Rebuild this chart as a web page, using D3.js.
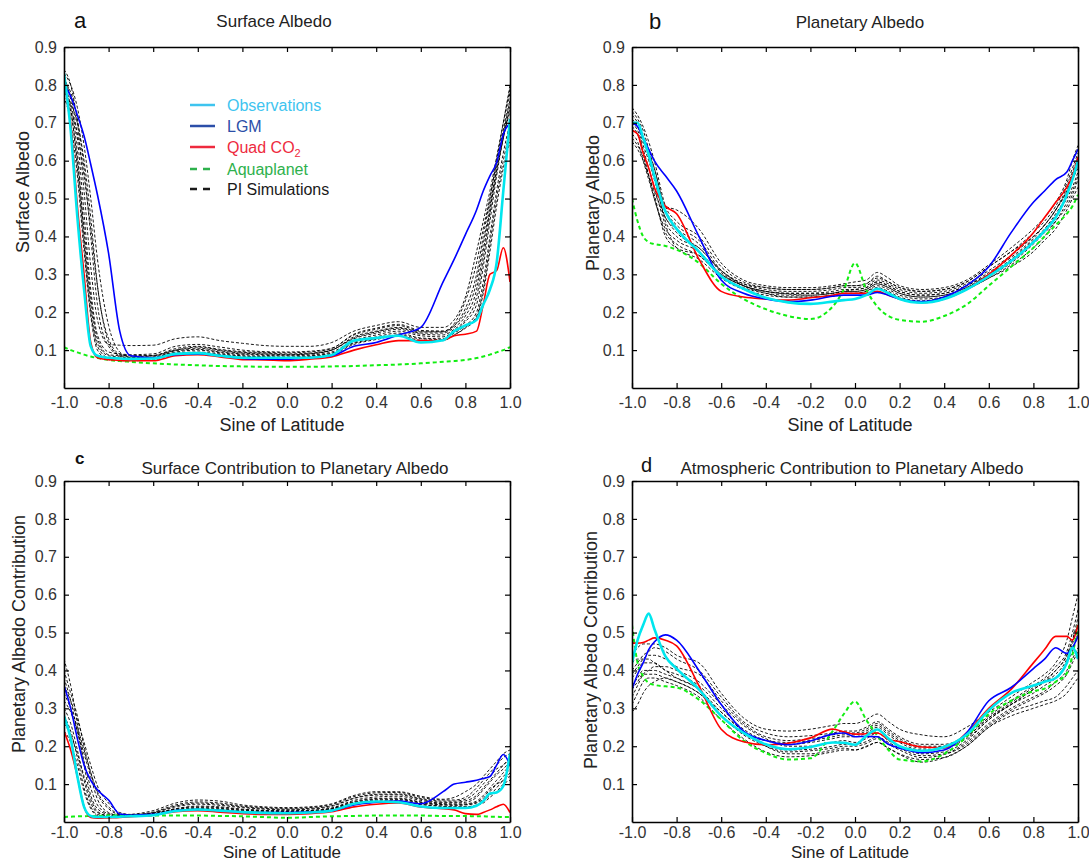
<!DOCTYPE html>
<html>
<head>
<meta charset="utf-8">
<script src="https://cdn.jsdelivr.net/npm/d3@7"></script>
<style>
body { margin:0; background:#fff; }
svg { font-family:"Liberation Sans", Arial, sans-serif; }
</style>
</head>
<body>
<svg id="chart"></svg>
<script>
// sine of latitude grids (a and c share one, b and d the other)
var sinLatAC = [-1,-0.97,-0.94,-0.91,-0.88,-0.85,-0.8,-0.75,-0.7,-0.6,-0.5,-0.4,-0.3,-0.2,-0.1,0,0.1,0.2,0.3,0.4,0.5,0.6,0.7,0.75,0.8,0.85,0.88,0.91,0.94,0.97,1];
var sinLatBD = [-1,-0.975,-0.95,-0.925,-0.9,-0.85,-0.8,-0.7,-0.6,-0.5,-0.4,-0.3,-0.2,-0.1,-0.05,0,0.05,0.1,0.15,0.2,0.3,0.4,0.5,0.6,0.7,0.8,0.85,0.9,0.95,0.975,1];

var xTicks = [-1,-0.8,-0.6,-0.4,-0.2,0,0.2,0.4,0.6,0.8,1];
var yTicks = [0.1,0.2,0.3,0.4,0.5,0.6,0.7,0.8,0.9];

// a: surface albedo
var obsA  = [0.83,0.68,0.45,0.26,0.11,0.085,0.08,0.078,0.077,0.078,0.09,0.092,0.085,0.08,0.08,0.08,0.08,0.087,0.125,0.132,0.138,0.12,0.126,0.15,0.165,0.18,0.22,0.26,0.33,0.52,0.71];
var lgmA  = [0.80,0.77,0.72,0.665,0.59,0.51,0.355,0.15,0.085,0.08,0.088,0.09,0.085,0.078,0.076,0.076,0.08,0.085,0.11,0.12,0.14,0.16,0.28,0.34,0.405,0.47,0.52,0.56,0.595,0.67,0.70];
var quadA = [0.81,0.70,0.48,0.30,0.12,0.08,0.075,0.073,0.072,0.072,0.085,0.088,0.082,0.075,0.074,0.072,0.076,0.082,0.10,0.114,0.125,0.125,0.126,0.138,0.142,0.15,0.22,0.30,0.31,0.37,0.28];
var aquaA = [0.108,0.1,0.094,0.088,0.083,0.079,0.074,0.071,0.069,0.065,0.062,0.06,0.058,0.057,0.056,0.056,0.056,0.057,0.058,0.06,0.062,0.065,0.069,0.071,0.074,0.079,0.083,0.088,0.094,0.1,0.108];
var piA = [
    [0.84,0.80,0.70,0.52,0.32,0.18,0.115,0.113,0.112,0.113,0.13,0.135,0.125,0.118,0.112,0.11,0.11,0.12,0.15,0.165,0.175,0.16,0.16,0.18,0.24,0.36,0.44,0.52,0.61,0.70,0.80],
    [0.80,0.77,0.66,0.46,0.26,0.14,0.095,0.09,0.088,0.09,0.11,0.115,0.108,0.1,0.096,0.095,0.097,0.105,0.14,0.155,0.165,0.15,0.15,0.165,0.2,0.28,0.38,0.48,0.58,0.66,0.75],
    [0.82,0.76,0.62,0.40,0.22,0.12,0.085,0.082,0.08,0.082,0.095,0.1,0.093,0.088,0.086,0.085,0.087,0.095,0.125,0.14,0.15,0.138,0.135,0.15,0.175,0.22,0.32,0.44,0.56,0.66,0.73],
    [0.78,0.75,0.70,0.60,0.45,0.27,0.13,0.09,0.085,0.085,0.1,0.105,0.098,0.092,0.09,0.088,0.09,0.1,0.13,0.145,0.155,0.142,0.14,0.155,0.18,0.24,0.34,0.46,0.58,0.67,0.76],
    [0.80,0.74,0.58,0.38,0.2,0.11,0.08,0.078,0.077,0.08,0.092,0.095,0.09,0.085,0.083,0.082,0.085,0.092,0.12,0.135,0.145,0.132,0.13,0.145,0.165,0.2,0.28,0.4,0.52,0.62,0.70],
    [0.76,0.73,0.67,0.56,0.42,0.27,0.12,0.085,0.075,0.078,0.09,0.093,0.088,0.084,0.082,0.08,0.083,0.09,0.118,0.13,0.14,0.13,0.128,0.14,0.16,0.19,0.26,0.38,0.5,0.6,0.68],
    [0.83,0.80,0.74,0.64,0.50,0.34,0.165,0.095,0.08,0.08,0.098,0.102,0.095,0.09,0.088,0.087,0.09,0.1,0.132,0.148,0.158,0.145,0.145,0.16,0.19,0.26,0.36,0.47,0.57,0.66,0.74],
    [0.79,0.73,0.6,0.42,0.24,0.13,0.088,0.085,0.082,0.085,0.1,0.108,0.1,0.094,0.092,0.09,0.092,0.1,0.135,0.15,0.16,0.148,0.148,0.165,0.21,0.3,0.4,0.5,0.6,0.68,0.78],
    [0.81,0.78,0.71,0.58,0.40,0.22,0.11,0.087,0.085,0.086,0.104,0.11,0.102,0.096,0.094,0.093,0.095,0.104,0.142,0.158,0.168,0.152,0.15,0.17,0.23,0.33,0.42,0.5,0.6,0.7,0.79],
    [0.77,0.7,0.56,0.36,0.19,0.1,0.075,0.072,0.072,0.074,0.088,0.09,0.085,0.08,0.078,0.077,0.08,0.088,0.115,0.128,0.138,0.126,0.125,0.14,0.158,0.185,0.25,0.36,0.48,0.58,0.65]
];

// b: planetary albedo
var obsB  = [0.70,0.70,0.66,0.615,0.56,0.465,0.42,0.36,0.295,0.262,0.238,0.226,0.222,0.228,0.232,0.235,0.245,0.262,0.25,0.235,0.225,0.235,0.26,0.295,0.335,0.385,0.415,0.45,0.51,0.55,0.60];
var lgmB  = [0.70,0.69,0.66,0.63,0.60,0.56,0.52,0.40,0.285,0.25,0.235,0.228,0.232,0.242,0.245,0.245,0.245,0.252,0.245,0.235,0.228,0.24,0.27,0.32,0.41,0.49,0.52,0.55,0.57,0.60,0.63];
var quadB = [0.68,0.67,0.62,0.58,0.53,0.48,0.46,0.34,0.255,0.24,0.235,0.232,0.238,0.245,0.25,0.25,0.25,0.255,0.245,0.235,0.225,0.235,0.26,0.30,0.35,0.41,0.45,0.49,0.53,0.56,0.61];
var aquaB = [0.50,0.44,0.40,0.385,0.38,0.375,0.365,0.33,0.275,0.235,0.208,0.19,0.182,0.215,0.26,0.33,0.26,0.215,0.19,0.18,0.175,0.19,0.22,0.27,0.32,0.37,0.40,0.43,0.46,0.48,0.51];
var piB = [
    [0.74,0.72,0.69,0.65,0.60,0.48,0.44,0.40,0.32,0.28,0.265,0.26,0.26,0.265,0.27,0.27,0.275,0.29,0.28,0.265,0.255,0.26,0.28,0.32,0.36,0.41,0.44,0.48,0.54,0.58,0.62],
    [0.72,0.70,0.66,0.61,0.56,0.44,0.40,0.37,0.31,0.275,0.26,0.255,0.255,0.26,0.265,0.265,0.27,0.285,0.275,0.26,0.25,0.255,0.275,0.31,0.35,0.40,0.43,0.47,0.52,0.56,0.60],
    [0.69,0.67,0.62,0.56,0.50,0.42,0.39,0.36,0.30,0.27,0.255,0.25,0.25,0.255,0.26,0.26,0.265,0.28,0.27,0.255,0.245,0.25,0.27,0.30,0.34,0.39,0.42,0.46,0.51,0.55,0.58],
    [0.67,0.65,0.60,0.55,0.50,0.41,0.38,0.35,0.295,0.265,0.25,0.245,0.245,0.25,0.255,0.255,0.26,0.275,0.265,0.25,0.24,0.245,0.265,0.295,0.33,0.38,0.41,0.44,0.49,0.52,0.56],
    [0.71,0.69,0.65,0.62,0.58,0.48,0.47,0.42,0.33,0.285,0.27,0.265,0.265,0.27,0.275,0.28,0.285,0.305,0.29,0.27,0.26,0.265,0.285,0.325,0.37,0.42,0.45,0.49,0.55,0.60,0.64],
    [0.65,0.63,0.60,0.56,0.52,0.45,0.41,0.37,0.31,0.27,0.25,0.24,0.24,0.245,0.25,0.25,0.255,0.27,0.26,0.245,0.235,0.24,0.26,0.29,0.325,0.37,0.40,0.44,0.48,0.51,0.55],
    [0.70,0.68,0.64,0.60,0.55,0.45,0.42,0.38,0.305,0.27,0.255,0.25,0.25,0.25,0.255,0.26,0.265,0.28,0.27,0.255,0.245,0.25,0.27,0.305,0.345,0.395,0.43,0.47,0.52,0.55,0.59],
    [0.68,0.67,0.63,0.58,0.53,0.43,0.37,0.34,0.29,0.26,0.245,0.24,0.24,0.245,0.25,0.25,0.255,0.265,0.255,0.24,0.23,0.24,0.26,0.29,0.32,0.36,0.39,0.42,0.47,0.50,0.53],
    [0.73,0.71,0.68,0.63,0.58,0.47,0.43,0.39,0.31,0.275,0.265,0.26,0.26,0.265,0.27,0.27,0.275,0.295,0.28,0.265,0.255,0.26,0.28,0.32,0.36,0.40,0.43,0.47,0.53,0.57,0.61],
    [0.66,0.64,0.61,0.56,0.51,0.40,0.37,0.35,0.30,0.27,0.255,0.248,0.245,0.25,0.255,0.255,0.26,0.275,0.265,0.25,0.24,0.245,0.265,0.30,0.335,0.385,0.415,0.455,0.50,0.53,0.57]
];

// c: surface contribution to planetary albedo
var obsC  = [0.28,0.22,0.12,0.04,0.016,0.013,0.013,0.014,0.015,0.018,0.029,0.033,0.03,0.026,0.024,0.023,0.025,0.03,0.048,0.054,0.052,0.041,0.037,0.037,0.037,0.043,0.055,0.075,0.078,0.095,0.18];
var lgmC  = [0.36,0.30,0.22,0.15,0.11,0.085,0.058,0.021,0.018,0.02,0.03,0.033,0.03,0.026,0.025,0.025,0.026,0.03,0.045,0.052,0.055,0.048,0.08,0.1,0.105,0.11,0.115,0.12,0.15,0.178,0.15];
var quadC = [0.24,0.19,0.12,0.04,0.012,0.01,0.011,0.012,0.014,0.018,0.027,0.03,0.026,0.022,0.02,0.02,0.022,0.027,0.04,0.047,0.05,0.04,0.035,0.032,0.022,0.02,0.025,0.032,0.04,0.047,0.025];
var aquaC = [0.013,0.014,0.015,0.015,0.016,0.016,0.017,0.017,0.017,0.017,0.017,0.017,0.016,0.015,0.013,0.011,0.013,0.015,0.016,0.017,0.017,0.017,0.016,0.016,0.016,0.015,0.015,0.014,0.014,0.013,0.013];
var piC = [
    [0.43,0.36,0.26,0.15,0.07,0.035,0.02,0.018,0.02,0.03,0.05,0.058,0.055,0.045,0.04,0.038,0.04,0.048,0.07,0.08,0.08,0.068,0.06,0.065,0.08,0.1,0.12,0.14,0.16,0.18,0.19],
    [0.38,0.32,0.24,0.16,0.09,0.045,0.022,0.018,0.018,0.025,0.042,0.05,0.047,0.04,0.036,0.034,0.036,0.043,0.063,0.073,0.074,0.062,0.055,0.055,0.06,0.08,0.1,0.12,0.14,0.15,0.17],
    [0.3,0.26,0.19,0.11,0.05,0.025,0.017,0.016,0.017,0.022,0.035,0.04,0.038,0.033,0.03,0.028,0.03,0.036,0.054,0.062,0.063,0.053,0.048,0.047,0.048,0.055,0.07,0.09,0.11,0.13,0.15],
    [0.34,0.3,0.25,0.19,0.13,0.075,0.035,0.02,0.019,0.022,0.035,0.042,0.04,0.034,0.031,0.03,0.031,0.037,0.057,0.066,0.068,0.057,0.05,0.05,0.052,0.065,0.085,0.105,0.125,0.14,0.16],
    [0.28,0.24,0.17,0.09,0.04,0.02,0.015,0.015,0.016,0.02,0.032,0.036,0.034,0.03,0.028,0.027,0.028,0.034,0.05,0.058,0.059,0.05,0.045,0.044,0.045,0.05,0.06,0.08,0.1,0.12,0.14],
    [0.32,0.29,0.24,0.18,0.12,0.06,0.025,0.017,0.016,0.02,0.03,0.034,0.032,0.028,0.026,0.025,0.027,0.032,0.048,0.055,0.056,0.047,0.042,0.04,0.04,0.045,0.055,0.07,0.09,0.11,0.12],
    [0.36,0.32,0.27,0.21,0.15,0.095,0.05,0.025,0.02,0.024,0.04,0.047,0.044,0.038,0.034,0.032,0.034,0.041,0.062,0.071,0.072,0.06,0.052,0.052,0.056,0.07,0.09,0.11,0.13,0.15,0.17],
    [0.26,0.23,0.18,0.12,0.06,0.028,0.016,0.015,0.016,0.021,0.033,0.038,0.036,0.031,0.029,0.028,0.029,0.035,0.052,0.06,0.061,0.052,0.046,0.045,0.046,0.052,0.065,0.085,0.1,0.11,0.13],
    [0.4,0.34,0.28,0.2,0.13,0.08,0.04,0.021,0.019,0.026,0.045,0.053,0.05,0.042,0.038,0.036,0.038,0.046,0.067,0.077,0.078,0.065,0.058,0.058,0.065,0.09,0.11,0.13,0.15,0.17,0.18],
    [0.24,0.21,0.15,0.08,0.035,0.017,0.014,0.014,0.015,0.019,0.03,0.033,0.031,0.027,0.025,0.024,0.026,0.031,0.046,0.052,0.054,0.046,0.041,0.04,0.04,0.044,0.05,0.065,0.08,0.1,0.11]
];

// d: atmospheric contribution to planetary albedo
var obsD  = [0.42,0.48,0.52,0.55,0.51,0.437,0.405,0.35,0.28,0.235,0.205,0.192,0.198,0.21,0.209,0.204,0.227,0.244,0.22,0.2,0.188,0.198,0.23,0.295,0.34,0.36,0.37,0.38,0.42,0.46,0.43];
var lgmD  = [0.35,0.39,0.42,0.455,0.475,0.494,0.48,0.40,0.31,0.24,0.215,0.204,0.214,0.232,0.235,0.225,0.226,0.225,0.205,0.195,0.183,0.19,0.235,0.32,0.355,0.405,0.43,0.46,0.445,0.46,0.49];
var quadD = [0.472,0.472,0.474,0.48,0.486,0.48,0.465,0.36,0.245,0.212,0.204,0.208,0.222,0.245,0.238,0.232,0.233,0.235,0.218,0.212,0.198,0.196,0.235,0.30,0.35,0.42,0.455,0.49,0.49,0.48,0.52];
var aquaD = [0.52,0.42,0.385,0.367,0.362,0.358,0.355,0.323,0.27,0.215,0.182,0.165,0.168,0.24,0.285,0.318,0.27,0.228,0.19,0.165,0.16,0.18,0.225,0.285,0.32,0.345,0.352,0.37,0.393,0.44,0.52];
var piD = [
    [0.29,0.31,0.34,0.36,0.37,0.38,0.37,0.34,0.29,0.24,0.2,0.18,0.18,0.19,0.195,0.19,0.2,0.21,0.195,0.18,0.165,0.17,0.2,0.25,0.29,0.31,0.32,0.33,0.36,0.38,0.40],
    [0.33,0.36,0.39,0.40,0.41,0.41,0.40,0.37,0.31,0.255,0.22,0.2,0.2,0.21,0.215,0.21,0.22,0.235,0.215,0.2,0.18,0.185,0.215,0.27,0.31,0.35,0.37,0.4,0.44,0.48,0.52],
    [0.40,0.42,0.44,0.45,0.46,0.45,0.43,0.40,0.33,0.265,0.235,0.225,0.228,0.235,0.24,0.24,0.25,0.265,0.245,0.225,0.205,0.205,0.23,0.28,0.32,0.36,0.38,0.41,0.45,0.5,0.56],
    [0.38,0.40,0.42,0.42,0.42,0.40,0.39,0.36,0.30,0.245,0.215,0.205,0.21,0.22,0.225,0.225,0.235,0.25,0.23,0.21,0.19,0.195,0.22,0.27,0.31,0.34,0.36,0.38,0.42,0.45,0.5],
    [0.44,0.46,0.47,0.47,0.47,0.46,0.44,0.42,0.34,0.275,0.245,0.24,0.245,0.255,0.26,0.26,0.27,0.285,0.265,0.245,0.23,0.225,0.25,0.29,0.33,0.37,0.39,0.42,0.48,0.54,0.60],
    [0.36,0.38,0.40,0.40,0.40,0.39,0.38,0.35,0.29,0.24,0.205,0.19,0.192,0.2,0.205,0.205,0.212,0.225,0.21,0.195,0.175,0.18,0.21,0.26,0.3,0.33,0.345,0.37,0.4,0.43,0.46],
    [0.42,0.43,0.43,0.43,0.42,0.40,0.38,0.35,0.28,0.235,0.215,0.21,0.215,0.225,0.23,0.23,0.24,0.255,0.235,0.215,0.195,0.2,0.225,0.275,0.31,0.35,0.37,0.39,0.43,0.47,0.52],
    [0.31,0.34,0.37,0.38,0.38,0.37,0.36,0.33,0.27,0.22,0.185,0.172,0.175,0.185,0.19,0.19,0.198,0.21,0.195,0.178,0.158,0.17,0.2,0.25,0.28,0.3,0.31,0.32,0.34,0.36,0.38],
    [0.39,0.41,0.43,0.44,0.44,0.43,0.41,0.39,0.32,0.26,0.225,0.215,0.22,0.23,0.235,0.235,0.245,0.26,0.24,0.22,0.2,0.2,0.225,0.275,0.315,0.355,0.375,0.4,0.44,0.48,0.54],
    [0.35,0.37,0.39,0.39,0.39,0.38,0.37,0.34,0.28,0.23,0.2,0.185,0.188,0.195,0.2,0.2,0.207,0.22,0.205,0.19,0.17,0.178,0.205,0.255,0.295,0.325,0.34,0.36,0.39,0.42,0.45]
];

var legendNames = ["Observations","LGM","Quad CO","Aquaplanet","PI Simulations"];
var legendColors = ["#3ec4ef","#2b4ea8","#ee2a3e","#2eb14c","#1a1a1a"];

var screen = {width:1089, height:862};
var plotW = 446, plotH = 341;

var svg = d3.select("#chart")
    .attr("width", screen.width)
    .attr("height", screen.height);

var fmt = function(d) { return d.toFixed(1); };

var styleAxis = function(ax)
{
    ax.attr("font-family", "Liberation Sans, Arial, sans-serif").attr("font-size", 16);
    ax.select(".domain").attr("stroke", "#000").attr("stroke-width", 1.6);
    ax.selectAll(".tick line").attr("stroke", "#000").attr("stroke-width", 1.2);
    ax.selectAll(".tick text").attr("fill", "#333");
};

var drawPanel = function(p)
{
    var xScale = d3.scaleLinear().domain([-1, 1]).range([0, plotW]);
    var yScale = d3.scaleLinear().domain([0, 0.9]).range([plotH, 0]);

    var g = svg.append("g")
        .attr("transform", "translate(" + p.left + "," + p.top + ")");

    g.append("clipPath").attr("id", "clip-" + p.letter)
        .append("rect").attr("width", plotW).attr("height", plotH);

    var line = d3.line()
        .x(function(d, i) { return xScale(p.x[i]); })
        .y(function(d) { return yScale(d); })
        .curve(d3.curveMonotoneX);

    var plot = g.append("g").attr("clip-path", "url(#clip-" + p.letter + ")");

    plot.selectAll("path.pi")
        .data(p.sims)
        .enter()
        .append("path")
        .attr("class", "pi")
        .attr("d", line)
        .attr("fill", "none")
        .attr("stroke", "#000")
        .attr("stroke-width", 0.9)
        .attr("stroke-dasharray", "3,2");

    var mains = [
        {v:p.aqua, c:"#11ee11", w:2, dash:"4,3"},
        {v:p.quad, c:"#ff0000", w:1.6, dash:null},
        {v:p.lgm,  c:"#0000ff", w:1.6, dash:null},
        {v:p.obs,  c:"#00e6ee", w:2.6, dash:null}
    ];
    plot.selectAll("path.main")
        .data(mains)
        .enter()
        .append("path")
        .attr("class", "main")
        .attr("d", function(m) { return line(m.v); })
        .attr("fill", "none")
        .attr("stroke", function(m) { return m.c; })
        .attr("stroke-width", function(m) { return m.w; })
        .attr("stroke-dasharray", function(m) { return m.dash; });

    // axes, ticks pointing inward on all four sides
    g.append("g")
        .attr("transform", "translate(0," + plotH + ")")
        .call(d3.axisBottom(xScale).tickValues(xTicks).tickSizeInner(-5).tickSizeOuter(0).tickPadding(p.tickPad).tickFormat(fmt))
        .call(styleAxis);
    g.append("g")
        .call(d3.axisTop(xScale).tickValues(xTicks).tickSizeInner(-5).tickSizeOuter(0).tickFormat(""))
        .call(styleAxis);
    g.append("g")
        .call(d3.axisLeft(yScale).tickValues(yTicks).tickSizeInner(-5).tickSizeOuter(0).tickPadding(7).tickFormat(fmt))
        .call(styleAxis);
    g.append("g")
        .attr("transform", "translate(" + plotW + ",0)")
        .call(d3.axisRight(yScale).tickValues(yTicks).tickSizeInner(-5).tickSizeOuter(0).tickFormat(""))
        .call(styleAxis);

    // texts
    svg.append("text")
        .attr("x", p.letterX).attr("y", p.letterY)
        .attr("font-size", p.letterSize)
        .attr("font-weight", p.letterBold ? "bold" : "normal")
        .attr("fill", "#111")
        .text(p.letter);

    svg.append("text")
        .attr("x", p.titleX).attr("y", p.titleY)
        .attr("text-anchor", "middle")
        .attr("font-size", 17)
        .attr("fill", "#222")
        .text(p.title);

    svg.append("text")
        .attr("x", p.left + p.xLabelDx).attr("y", p.top + plotH + p.xLabelDy)
        .attr("text-anchor", "middle")
        .attr("font-size", p.xLabelSize)
        .attr("fill", "#222")
        .text("Sine of Latitude");

    svg.append("text")
        .attr("transform", "translate(" + p.yLabelX + "," + p.yLabelY + ") rotate(-90)")
        .attr("text-anchor", "middle")
        .attr("font-size", 18)
        .attr("fill", "#222")
        .text(p.yLabel);
};

drawPanel({letter:"a", left:64, top:47, x:sinLatAC, obs:obsA, lgm:lgmA, quad:quadA, aqua:aquaA, sims:piA,
    letterX:74, letterY:28, letterSize:22, title:"Surface Albedo", titleX:274, titleY:27, tickPad:9,
    xLabelDx:218, xLabelDy:43, xLabelSize:18, yLabel:"Surface Albedo", yLabelX:29, yLabelY:192});
drawPanel({letter:"b", left:632, top:47, x:sinLatBD, obs:obsB, lgm:lgmB, quad:quadB, aqua:aquaB, sims:piB,
    letterX:649, letterY:29, letterSize:22, title:"Planetary Albedo", titleX:860, titleY:28, tickPad:9,
    xLabelDx:218, xLabelDy:43, xLabelSize:18, yLabel:"Planetary Albedo", yLabelX:599, yLabelY:203});
drawPanel({letter:"c", left:64, top:481, x:sinLatAC, obs:obsC, lgm:lgmC, quad:quadC, aqua:aquaC, sims:piC,
    letterX:75, letterY:464, letterSize:17, letterBold:true, title:"Surface Contribution to Planetary Albedo", titleX:295, titleY:474, tickPad:5,
    xLabelDx:218, xLabelDy:36, xLabelSize:17, yLabel:"Planetary Albedo Contribution", yLabelX:25, yLabelY:634});
drawPanel({letter:"d", left:632, top:481, x:sinLatBD, obs:obsD, lgm:lgmD, quad:quadD, aqua:aquaD, sims:piD,
    letterX:641, letterY:472, letterSize:20, title:"Atmospheric Contribution to Planetary Albedo", titleX:852, titleY:474, tickPad:5,
    xLabelDx:218, xLabelDy:36, xLabelSize:17, yLabel:"Planetary Albedo Contribution", yLabelX:597, yLabelY:650});

// legend inside panel a
var legend = svg.append("g").attr("transform", "translate(190,105)");
var rows = legend.selectAll("g")
    .data(legendNames)
    .enter()
    .append("g")
    .attr("transform", function(d, i) { return "translate(0," + [0, 21, 42, 64, 84][i] + ")"; });

rows.append("line")
    .attr("x1", 0).attr("x2", 25)
    .attr("stroke", function(d, i) { return legendColors[i]; })
    .attr("stroke-width", 2.5)
    .attr("stroke-dasharray", function(d, i) { return i > 2 ? "7,6" : null; });

var labels = rows.append("text")
    .attr("x", 37).attr("y", 6)
    .attr("font-size", 16)
    .attr("fill", function(d, i) { return legendColors[i]; })
    .text(function(d) { return d; });

labels.filter(function(d) { return d === "Quad CO"; })
    .append("tspan")
    .attr("dy", 4)
    .attr("font-size", 11)
    .text("2");
</script>
</body>
</html>
